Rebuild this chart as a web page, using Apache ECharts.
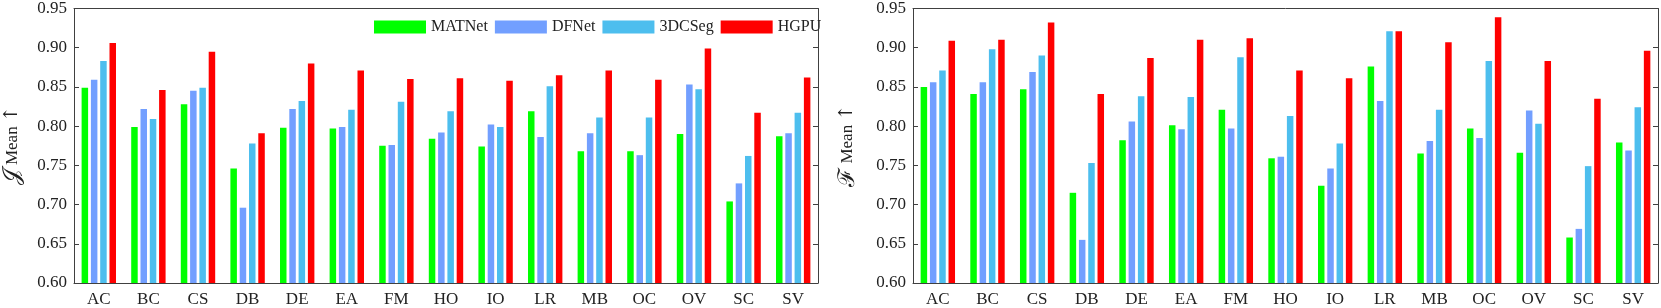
<!DOCTYPE html>
<html><head><meta charset="utf-8">
<script src="https://cdn.jsdelivr.net/npm/echarts@6/dist/echarts.min.js"></script>
<style>html,body{margin:0;padding:0;background:#fff}#c{width:1661px;height:308px}</style>
</head><body><div id="c"></div>
<script>
const categories = ['AC','BC','CS','DB','DE','EA','FM','HO','IO','LR','MB','OC','OV','SC','SV'];
const seriesNames = ['MATNet','DFNet','3DCSeg','HGPU'];
const colors = ['#00ff00','#729fff','#4dbeee','#ff0000'];
const yTicks = [0.60,0.65,0.70,0.75,0.80,0.85,0.90,0.95];

// J Mean (left panel)
const jMATNet = [0.849,0.799,0.828,0.746,0.798,0.797,0.775,0.784,0.774,0.819,0.768,0.768,0.790,0.704,0.787];
const jDFNet  = [0.859,0.822,0.845,0.696,0.822,0.799,0.776,0.792,0.802,0.786,0.791,0.763,0.853,0.727,0.791];
const j3DCSeg = [0.883,0.809,0.849,0.778,0.832,0.821,0.831,0.819,0.799,0.851,0.811,0.811,0.847,0.762,0.817];
const jHGPU   = [0.906,0.846,0.895,0.791,0.880,0.871,0.860,0.861,0.858,0.865,0.871,0.859,0.899,0.817,0.862];

// F Mean (right panel)
const fMATNet = [0.850,0.841,0.847,0.715,0.782,0.801,0.821,0.759,0.724,0.876,0.765,0.797,0.766,0.658,0.779];
const fDFNet  = [0.856,0.856,0.869,0.655,0.806,0.796,0.797,0.761,0.746,0.832,0.781,0.785,0.820,0.669,0.769];
const f3DCSeg = [0.871,0.898,0.890,0.753,0.838,0.837,0.888,0.813,0.778,0.921,0.821,0.883,0.803,0.749,0.824];
const fHGPU   = [0.909,0.910,0.932,0.841,0.887,0.910,0.912,0.871,0.861,0.921,0.907,0.939,0.883,0.835,0.896];

const leftData = [jMATNet,jDFNet,j3DCSeg,jHGPU];
const rightData = [fMATNet,fDFNet,f3DCSeg,fHGPU];

const FONT = 'Liberation Serif';
const AX = '#404040';
const TXT = '#222';

const grids = [
  {left:64, right:843, top:5, bottom:25},
  {left:913, right:3, top:5, bottom:25}
];
const xAxis = [], yAxis = [];
const names = ['{s|\u{1D4A5}}{m| Mean }{a|\u2191}', '{s|\u2131}{m| Mean }{a|\u2191}'];
const gaps = [50, 54];
for (let g=0; g<2; g++) {
  xAxis.push({type:'category', gridIndex:g, data:categories, position:'bottom',
    axisLine:{lineStyle:{color:AX,width:1}}, axisTick:{inside:true,length:5,alignWithLabel:true,lineStyle:{color:AX}},
    axisLabel:{fontFamily:FONT,fontSize:17,color:TXT,margin:8}});
  xAxis.push({type:'category', gridIndex:g, data:categories, position:'top',
    axisLine:{lineStyle:{color:AX,width:1}}, axisTick:{inside:true,length:5,alignWithLabel:true,lineStyle:{color:AX}},
    axisLabel:{show:false}});
  yAxis.push({type:'value', gridIndex:g, min:0.60, max:0.95, interval:0.05, position:'left',
    name:names[g], nameLocation:'middle', nameGap:gaps[g], nameRotate:90,
    nameTextStyle:{fontFamily:FONT,fontSize:17,color:TXT,
      rich:{s:{fontFamily:FONT,fontSize:23,color:TXT},
            m:{fontFamily:FONT,fontSize:17,color:TXT},
            a:{fontFamily:'DejaVu Serif',fontSize:19,color:TXT}}},
    axisLine:{show:true,lineStyle:{color:AX,width:1}}, axisTick:{show:true,inside:true,length:5,lineStyle:{color:AX}},
    splitLine:{show:false},
    axisLabel:{fontFamily:FONT,fontSize:17,color:TXT,margin:7,formatter:v=>v.toFixed(2)}});
  yAxis.push({type:'value', gridIndex:g, min:0.60, max:0.95, interval:0.05, position:'right',
    axisLine:{show:true,lineStyle:{color:AX,width:1}}, axisTick:{show:true,inside:true,length:5,lineStyle:{color:AX}},
    splitLine:{show:false}, axisLabel:{show:false}});
}
const series = [];
[leftData,rightData].forEach((dat,g)=>{
  dat.forEach((arr,i)=>{
    series.push({type:'bar', name:seriesNames[i], xAxisIndex:g*2, yAxisIndex:g*2, data:arr,
      barWidth:6.5, barGap:'43%', itemStyle:{color:colors[i]}, silent:true});
  });
});
const chart = echarts.init(document.getElementById('c'), null, {renderer:'canvas'});
chart.setOption({
  animation:false,
  grid:grids, xAxis, yAxis, series,
  legend:{data:seriesNames, left:369, top:14, itemWidth:52, itemHeight:13, itemGap:7,
    icon:'rect', textStyle:{fontFamily:FONT,fontSize:16,color:TXT}}
});
</script></body></html>
